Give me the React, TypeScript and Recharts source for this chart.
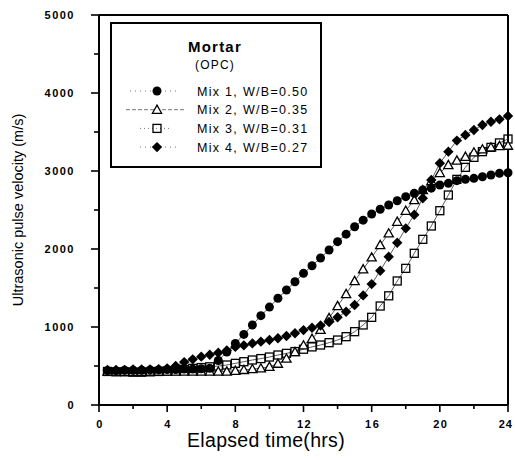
import React from 'react';
import { LineChart, Line, XAxis, YAxis, ReferenceLine } from 'recharts';

const hours = [0.5, 1, 1.5, 2, 2.5, 3, 3.5, 4, 4.5, 5, 5.5, 6, 6.5, 7, 7.5, 8, 8.5, 9, 9.5, 10, 10.5, 11, 11.5, 12, 12.5, 13, 13.5, 14, 14.5, 15, 15.5, 16, 16.5, 17, 17.5, 18, 18.5, 19, 19.5, 20, 20.5, 21, 21.5, 22, 22.5, 23, 23.5, 24];

const mix1 = [440, 440, 445, 445, 445, 450, 450, 455, 455, 460, 460, 465, 470, 570, 680, 790, 905, 1026, 1145, 1255, 1368, 1475, 1580, 1688, 1785, 1885, 1987, 2094, 2190, 2285, 2370, 2449, 2509, 2564, 2619, 2671, 2714, 2756, 2780, 2820, 2842, 2876, 2893, 2906, 2927, 2949, 2970, 2978];
const mix2 = [430, 430, 425, 425, 425, 430, 430, 430, 430, 430, 430, 430, 430, 430, 430, 440, 450, 460, 470, 490, 530, 595, 680, 765, 850, 965, 1115, 1269, 1423, 1590, 1740, 1893, 2051, 2201, 2350, 2491, 2628, 2755, 2870, 2975, 3077, 3135, 3183, 3239, 3278, 3303, 3320, 3325];
const mix3 = [430, 425, 425, 420, 420, 425, 430, 435, 440, 455, 470, 480, 490, 500, 513, 534, 555, 577, 595, 615, 641, 662, 685, 715, 745, 769, 799, 833, 876, 940, 1026, 1124, 1269, 1400, 1590, 1752, 1945, 2124, 2295, 2491, 2692, 2893, 3047, 3175, 3248, 3303, 3360, 3410];
const mix4 = [450, 450, 450, 455, 455, 455, 460, 470, 500, 550, 585, 620, 645, 670, 700, 745, 765, 790, 812, 833, 855, 885, 919, 960, 990, 1020, 1065, 1125, 1195, 1282, 1405, 1550, 1722, 1900, 2081, 2265, 2440, 2650, 2885, 3100, 3248, 3390, 3462, 3526, 3590, 3632, 3662, 3705];

const seriesNames = ['Mix 1, W/B=0.50', 'Mix 2, W/B=0.35', 'Mix 3, W/B=0.31', 'Mix 4, W/B=0.27'];
const xTicks = [0, 2, 4, 6, 8, 10, 12, 14, 16, 18, 20, 22, 24];
const yTicks = [0, 500, 1000, 1500, 2000, 2500, 3000, 3500, 4000, 4500, 5000];

const data = hours.map((h, i) => ({ t: h, m1: mix1[i], m2: mix2[i], m3: mix3[i], m4: mix4[i] }));

const FONT = '"Liberation Sans", Arial, Helvetica, sans-serif';

const CircleDot = (p: any) => (p.cx == null ? <g key={p.key} /> : <circle key={p.key} cx={p.cx} cy={p.cy} r={4.5} fill="#000" />);
const TriDot = (p: any) =>
  p.cx == null ? <g key={p.key} /> : (
    <path key={p.key} d={`M${p.cx},${p.cy - 4.6}L${p.cx + 4.6},${p.cy + 3.6}L${p.cx - 4.6},${p.cy + 3.6}Z`} fill="#fff" stroke="#000" strokeWidth={1.3} />
  );
const SqDot = (p: any) =>
  p.cx == null ? <g key={p.key} /> : (
    <rect key={p.key} x={p.cx - 4} y={p.cy - 4} width={8} height={8} fill="none" stroke="#000" strokeWidth={1.3} />
  );
const DiaDot = (p: any) =>
  p.cx == null ? <g key={p.key} /> : (
    <path key={p.key} d={`M${p.cx},${p.cy - 5.2}L${p.cx + 5.2},${p.cy}L${p.cx},${p.cy + 5.2}L${p.cx - 5.2},${p.cy}Z`} fill="#000" />
  );

const YTick = (p: any) => {
  const ax = p.x + 8;
  const v = p.payload.value;
  const major = v % 1000 === 0;
  return (
    <g>
      <line x1={ax - (major ? 8 : 5)} x2={ax} y1={p.y} y2={p.y} stroke="#000" strokeWidth={1.6} />
      {major && (
        <text x={ax - 24} y={p.y} dy={4} textAnchor="end" fontFamily={FONT} fontSize={11} fontWeight="bold" letterSpacing={1.5} fill="#000">
          {v}
        </text>
      )}
    </g>
  );
};

const XTick = (p: any) => {
  const ay = p.y - 8;
  const v = p.payload.value;
  const major = v % 4 === 0;
  const last = v === 24;
  return (
    <g>
      <line x1={p.x} x2={p.x} y1={ay} y2={ay + (major ? 7 : 4)} stroke="#000" strokeWidth={1.6} />
      {major && (
        <text
          x={last ? p.x + 5 : p.x + 1}
          y={ay + 23}
          textAnchor={last ? 'end' : 'middle'}
          fontFamily={FONT}
          fontSize={11}
          fontWeight="bold"
          letterSpacing={last ? 1 : 1.5}
          fill="#000"
        >
          {v}
        </text>
      )}
    </g>
  );
};

const LegendMarker = ({ kind, cx, cy }: { kind: number; cx: number; cy: number }) => {
  if (kind === 0) return <CircleDot cx={cx} cy={cy} />;
  if (kind === 1) return <TriDot cx={cx} cy={cy} />;
  if (kind === 2) return <SqDot cx={cx} cy={cy} />;
  return <DiaDot cx={cx} cy={cy} />;
};

const legendDash = ['1 4', '4 2', '1 3', '1 4'];
const legendLine = [
  [130, 176],
  [126, 186],
  [140, 172],
  [140, 180],
];

export default function App() {
  return (
    <div style={{ position: 'absolute', left: 0, top: 0, width: 515, height: 461, background: '#fff' }}>
      <LineChart width={515} height={461} data={data} margin={{ top: 15, right: 7, bottom: 26, left: 39 }}>
        <XAxis
          dataKey="t"
          type="number"
          domain={[0, 24]}
          ticks={xTicks}
          interval={0}
          height={30}
          tickSize={8}
          tickMargin={0}
          tickLine={false}
          tick={<XTick />}
          axisLine={{ stroke: '#000', strokeWidth: 2 }}
        />
        <YAxis
          type="number"
          domain={[0, 5000]}
          ticks={yTicks}
          interval={0}
          width={60}
          tickSize={8}
          tickMargin={0}
          tickLine={false}
          tick={<YTick />}
          axisLine={{ stroke: '#000', strokeWidth: 2 }}
        />
        <ReferenceLine y={5000} stroke="#000" strokeWidth={2} />
        <ReferenceLine x={24} stroke="#000" strokeWidth={2} />
        <Line dataKey="m3" stroke="#333" strokeWidth={0.8} dot={SqDot} isAnimationActive={false} />
        <Line dataKey="m2" stroke="#333" strokeWidth={0.8} dot={TriDot} isAnimationActive={false} />
        <Line dataKey="m4" stroke="#333" strokeWidth={0.8} dot={DiaDot} isAnimationActive={false} />
        <Line dataKey="m1" stroke="#333" strokeWidth={0.8} dot={CircleDot} isAnimationActive={false} />
      </LineChart>
      <svg width={515} height={461} style={{ position: 'absolute', left: 0, top: 0, pointerEvents: 'none' }}>
        <text
          x={0}
          y={0}
          transform="translate(23,210) rotate(-90)"
          textAnchor="middle"
          fontFamily={FONT}
          fontSize={14.5}
          fill="#000"
        >
          Ultrasonic pulse velocity (m/s)
        </text>
        <text x={266} y={447} textAnchor="middle" fontFamily={FONT} fontSize={19.5} fill="#000" letterSpacing={0.3}>
          Elapsed time(hrs)
        </text>
        <rect x={111} y={23} width={210} height={144} fill="#fff" stroke="#000" strokeWidth={2} />
        <text x={215} y={52} textAnchor="middle" fontFamily={FONT} fontSize={15} fontWeight="bold" letterSpacing={1.2} fill="#000">
          Mortar
        </text>
        <text x={215} y={69} textAnchor="middle" fontFamily={FONT} fontSize={12} letterSpacing={1.2} fill="#000">
          (OPC)
        </text>
        {seriesNames.map((name, i) => {
          const cy = 91 + i * 18.7;
          return (
            <g key={name}>
              <line x1={legendLine[i][0]} x2={legendLine[i][1]} y1={cy} y2={cy} stroke="#666" strokeWidth={0.9} strokeDasharray={legendDash[i]} />
              <LegendMarker kind={i} cx={157} cy={cy} />
              <text x={197} y={cy + 4.5} fontFamily={FONT} fontSize={12.5} letterSpacing={1.3} fill="#000">
                {name}
              </text>
            </g>
          );
        })}
      </svg>
    </div>
  );
}
